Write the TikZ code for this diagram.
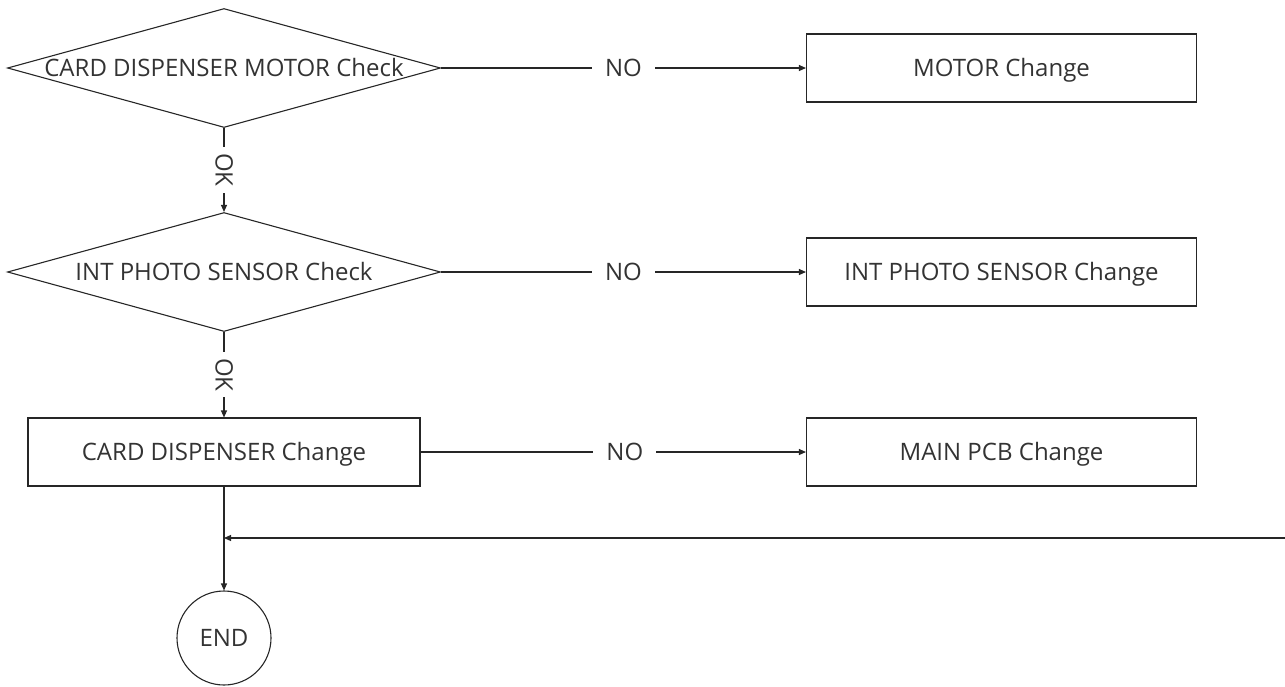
\documentclass[tikz,border=0pt]{standalone}
\usepackage{fontspec}
\setmainfont{Open Sans}
\usetikzlibrary{shapes.geometric,arrows.meta}
\tikzset{
  check/.style={draw,diamond,minimum width=433pt,minimum height=119pt,inner sep=0pt},
  change/.style={draw,rectangle,minimum width=390pt,minimum height=68pt},
  endnode/.style={draw,circle,minimum size=94pt,inner sep=0pt},
  flow/.style={-{Triangle[length=7pt,width=6pt]}},
  notag/.style={fill=white,inner xsep=13pt,inner ysep=2pt},
  oktag/.style={fill=white,inner xsep=6pt,inner ysep=2pt,rotate=-90}
}
\begin{document}
\begin{tikzpicture}[x=1pt,y=-1pt,line width=1.1pt,draw=black!85,
  every node/.style={font=\fontsize{24}{28}\selectfont,text=black!80,
    text height=17pt,text depth=0pt}]
 \useasboundingbox (0,0) rectangle (1285,686);
 % checks on the left
 \node[check,label=center:{CARD DISPENSER MOTOR Check}] (motorchk) at (224,68) {};
 \node[check,label=center:{INT PHOTO SENSOR Check}] (photochk) at (224,272) {};
 \node[change,minimum width=392pt] (dispchg) at (224,452) {CARD DISPENSER Change};
 \node[endnode] (end) at (224,638) {END};
 % changes on the right
 \node[change] (motorchg) at (1001.5,68) {MOTOR Change};
 \node[change] (photochg) at (1001.5,272) {INT PHOTO SENSOR Change};
 \node[change] (pcbchg) at (1001.5,452) {MAIN PCB Change};
 \coordinate (back) at (1285,538);
 \path[flow]
   (motorchk) edge node[notag] {NO} (motorchg)
   (motorchk) edge node[oktag] {OK} (photochk)
   (photochk) edge node[notag] {NO} (photochg)
   (photochk) edge node[oktag] {OK} (dispchg)
   (dispchg) edge node[notag,pos=0.53] {NO} (pcbchg)
   (dispchg) edge (end)
   (back) edge (back -| dispchg);
\end{tikzpicture}
\end{document}
